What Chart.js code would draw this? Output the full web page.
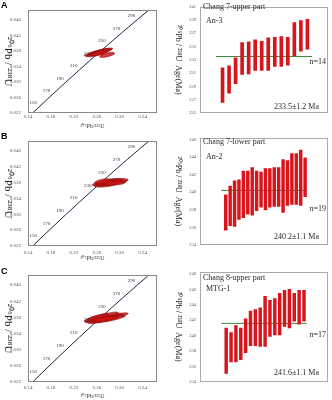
<!DOCTYPE html>
<html><head><meta charset="utf-8">
<script src="https://cdn.jsdelivr.net/npm/chart.js@4.4.0/dist/chart.umd.min.js"></script>
<style>
html,body{margin:0;padding:0;background:#fff;}
#wrap{position:relative;width:332px;height:400px;overflow:hidden;background:#fff;}
canvas{position:absolute;}
.lt{position:absolute;font:bold 9px "Liberation Sans",Arial,sans-serif;color:#000;line-height:10px;}
</style></head><body>
<div id="wrap">
<canvas id="cA" width="162" height="131" style="left:0;top:0"></canvas>
<canvas id="cB" width="162" height="134" style="left:0;top:131px"></canvas>
<canvas id="cC" width="162" height="135" style="left:0;top:265px"></canvas>
<canvas id="rA" width="167" height="131" style="left:165px;top:0"></canvas>
<canvas id="rB" width="167" height="134" style="left:165px;top:131px"></canvas>
<canvas id="rC" width="167" height="135" style="left:165px;top:265px"></canvas>
<div class="lt" style="left:1px;top:0px">A</div>
<div class="lt" style="left:1px;top:131px">B</div>
<div class="lt" style="left:1px;top:266px">C</div>
</div>
<script>
// ---- Concordia reference curve (ages in Ma, ratios) ----
const concAges = [140,150,170,190,210,230,250,270,290,306];
const concX = [0.1479,0.1592,0.1823,0.2058,0.2298,0.2542,0.2792,0.3046,0.3306,0.3517];
const concY = [0.02196,0.02354,0.02672,0.02991,0.03311,0.03632,0.03954,0.04277,0.04601,0.04861];
const concLabelAges = [150,170,190,210,230,250,270,290];
const ratioXTicks = [0.14,0.18,0.22,0.26,0.30,0.34];
const ratioYTicks = [0.022,0.026,0.030,0.034,0.038,0.042,0.046];

// ---- Error ellipses: major-axis end points (207Pb/235U, 206Pb/238U) ----
const aEllX1 = [0.238,0.242,0.246,0.250,0.265];
const aEllY1 = [0.0367,0.0366,0.0370,0.0368,0.0365];
const aEllX2 = [0.288,0.282,0.286,0.278,0.291];
const aEllY2 = [0.0386,0.0382,0.0385,0.0380,0.0374];

const bEllX1 = [0.252,0.258,0.262,0.255,0.265,0.260,0.270,0.256];
const bEllY1 = [0.0374,0.0376,0.0378,0.0372,0.0380,0.0374,0.0377,0.0379];
const bEllX2 = [0.300,0.312,0.305,0.295,0.315,0.290,0.310,0.285];
const bEllY2 = [0.0383,0.0384,0.0388,0.0378,0.0387,0.0385,0.0381,0.0387];

const cEllX1 = [0.240,0.245,0.242,0.250,0.238,0.252];
const cEllY1 = [0.0368,0.0366,0.0372,0.0368,0.0370,0.0372];
const cEllX2 = [0.315,0.305,0.298,0.310,0.280,0.295];
const cEllY2 = [0.0390,0.0387,0.0392,0.0384,0.0388,0.0380];

// ---- 206Pb/238U spot ages (Ma): lower / upper ends of the error bars ----
const aAgeLo = [226.6,228.0,229.4,230.8,230.9,231.4,231.4,231.4,232.0,232.0,232.2,233.6,234.3,234.6];
const aAgeHi = [231.8,232.1,233.3,235.6,235.7,236.0,235.8,236.3,236.4,236.5,236.4,238.6,238.9,239.1];
const bAgeLo = [235.7,236.2,236.1,236.9,237.1,237.5,237.4,237.9,238.3,238.0,238.3,238.4,238.4,237.7,238.5,238.6,238.6,238.5,239.5];
const bAgeHi = [239.7,240.7,241.3,241.4,242.4,242.4,242.8,242.4,242.3,242.7,242.7,242.8,242.8,243.7,243.6,244.4,244.4,244.8,243.9];
const cAgeLo = [235.1,236.6,236.6,236.9,237.8,238.7,238.7,238.6,238.6,239.9,240.1,240.1,241.2,241.0,241.9,241.5,241.9];
const cAgeHi = [241.0,240.4,241.3,241.0,242.2,243.2,243.4,243.6,245.1,244.6,244.8,245.5,245.9,246.0,245.5,245.9,245.9];
const meanAges = [233.5,240.2,241.6];
const aAgeTicks = [225,227,229,231,233,235,237,239,241];
const bAgeTicks = [234,236,238,240,242,244,246];
const cAgeTicks = [234,236,238,240,242,244,246,248];
const sampleNames = ['Chang 7-upper part','Chang 7-lower part','Chang 8-upper part'];
const sampleIds = ['An-3','An-2','MTG-1'];
const spotCounts = [14,19,17];
const meanErr = [1.2,1.1,1.1];

const SERIF = '"Liberation Serif","Times New Roman",serif';

function boxPlugin(color){
  return {id:'box', afterDraw(chart){
    const a=chart.chartArea, c=chart.ctx;
    c.save(); c.strokeStyle=color; c.lineWidth=1;
    c.strokeRect(Math.round(a.left)+0.5, Math.round(a.top)+0.5, Math.round(a.right-a.left)-1, Math.round(a.bottom-a.top)-1);
    c.restore();
  }};
}
// vertical axis title, written top-to-bottom
function vTitlePlugin(text, size, x){
  return {id:'vtitle', afterDraw(chart){
    const a=chart.chartArea, c=chart.ctx;
    c.save(); c.translate(x,(a.top+a.bottom)/2); c.rotate(Math.PI/2);
    c.font=size+'px '+SERIF; c.fillStyle='#222'; c.textAlign='center'; c.textBaseline='middle';
    c.fillText(text,0,0); c.restore();
  }};
}
function ellPlugin(x1,y1,x2,y2,w){
  return {id:'ell', afterDatasetsDraw(chart){
    const {ctx, chartArea:a, scales:{x,y}} = chart;
    ctx.save(); ctx.beginPath(); ctx.rect(a.left,a.top,a.right-a.left,a.bottom-a.top); ctx.clip();
    for(let i=0;i<x1.length;i++){
      const p1x=x.getPixelForValue(x1[i]), p1y=y.getPixelForValue(y1[i]);
      const p2x=x.getPixelForValue(x2[i]), p2y=y.getPixelForValue(y2[i]);
      const cx=(p1x+p2x)/2, cy=(p1y+p2y)/2;
      const r=Math.hypot(p2x-p1x,p2y-p1y)/2, ang=Math.atan2(p2y-p1y,p2x-p1x);
      ctx.beginPath(); ctx.ellipse(cx,cy,r,w,ang,0,Math.PI*2);
      ctx.fillStyle='rgba(200,20,20,0.85)'; ctx.fill();
      ctx.strokeStyle='#7a0a0a'; ctx.lineWidth=0.5; ctx.stroke();
    }
    ctx.restore();
  }};
}
const concLabPlugin = {id:'concLab', afterDatasetsDraw(chart){
  const {ctx, scales:{x,y}} = chart;
  ctx.save(); ctx.font='5px '+SERIF; ctx.fillStyle='#333'; ctx.textAlign='right'; ctx.textBaseline='middle';
  concLabelAges.forEach(age=>{
    const i=concAges.indexOf(age);
    const px=x.getPixelForValue(concX[i]), py=y.getPixelForValue(concY[i]);
    ctx.fillText(String(age), px-2, py-4);
  });
  ctx.restore();
}};
function notesPlugin(list){
  return {id:'notes', afterDraw(chart){
    const c=chart.ctx; c.save(); c.fillStyle='#2a2a2a'; c.textBaseline='middle';
    list.forEach(n=>{ c.font=n.size+'px '+SERIF; c.textAlign=n.align||'left'; c.fillText(n.text,n.x,n.y); });
    c.restore();
  }};
}

function makeConc(id, ell, cfg){
  new Chart(document.getElementById(id), {
    type:'scatter',
    data:{datasets:[{data:concX.map((v,i)=>({x:v,y:concY[i]})), showLine:true, borderColor:'#1c2440', borderWidth:1, pointRadius:0, tension:0}]},
    options:{
      responsive:false, animation:false, events:[],
      layout:{padding:{top:cfg.top,right:cfg.right,left:0,bottom:0}},
      plugins:{legend:{display:false},tooltip:{enabled:false}},
      scales:{
        x:{type:'linear',min:0.14,max:0.365,
          afterBuildTicks:s=>{s.ticks=ratioXTicks.map(v=>({value:v}));},
          afterFit:s=>{s.height=cfg.xh;},
          grid:{display:false,drawTicks:false}, border:{display:false},
          ticks:{padding:cfg.xtp,autoSkip:false,maxRotation:0,font:{size:5,family:SERIF},color:'#555',callback:v=>Number(v).toFixed(2)},
          title:{display:true,text:'²⁰⁷Pb/²³⁵U',font:{size:6,family:SERIF},color:'#333',padding:{top:0,bottom:cfg.xttp}}},
        y:{type:'linear',min:0.022,max:0.0485,
          afterBuildTicks:s=>{s.ticks=ratioYTicks.map(v=>({value:v}));},
          afterFit:s=>{s.width=28;},
          grid:{display:false,drawTicks:false}, border:{display:false},
          ticks:{padding:7,autoSkip:false,font:{size:5,family:SERIF},color:'#555',callback:v=>Number(v).toFixed(3)},
          title:{display:false}}
      }
    },
    plugins:[boxPlugin('#888'), ellPlugin(ell[0],ell[1],ell[2],ell[3],ell[4]), concLabPlugin, vTitlePlugin('²⁰⁶Pb / ²³⁸U',11,8)]
  });
}

function makeAge(id, k, lo, hi, ticks, cfg, notes){
  const pts = lo.map((v,i)=>({x:i+1,y:[v,hi[i]]}));
  new Chart(document.getElementById(id), {
    type:'bar',
    data:{datasets:[
      {type:'line',data:[{x:cfg.xmin,y:meanAges[k]},{x:cfg.xmax,y:meanAges[k]}],borderColor:'#3f8a3f',borderWidth:1,pointRadius:0,order:2},
      {type:'bar',data:pts,backgroundColor:'#d7151c',barThickness:cfg.bw,order:1}
    ]},
    options:{
      responsive:false, animation:false, events:[],
      layout:{padding:{top:cfg.top,right:4,left:0,bottom:cfg.bottom}},
      plugins:{legend:{display:false},tooltip:{enabled:false}},
      scales:{
        x:{type:'linear',min:cfg.xmin,max:cfg.xmax,display:false},
        y:{type:'linear',min:ticks[0],max:cfg.ymax,
          afterBuildTicks:s=>{s.ticks=ticks.map(v=>({value:v}));},
          afterFit:s=>{s.width=35;},
          grid:{display:false,drawTicks:false}, border:{display:false},
          ticks:{padding:4,autoSkip:false,font:{size:4.5,family:SERIF},color:'#555'},
          title:{display:false}}
      }
    },
    plugins:[boxPlugin('#aaa'), notesPlugin(notes), vTitlePlugin('²⁰⁶Pb / ²³⁸U  Age(Ma)',8,13)]
  });
}

makeConc('cA',[aEllX1,aEllY1,aEllX2,aEllY2,2.0],{top:3,right:5,xh:18,xtp:1,xttp:1.4});
makeConc('cB',[bEllX1,bEllY1,bEllX2,bEllY2,2.3],{top:2,right:5,xh:19,xtp:4,xttp:3});
makeConc('cC',[cEllX1,cEllY1,cEllX2,cEllY2,2.3],{top:3,right:5,xh:18,xtp:2.5,xttp:0});

function notesFor(k, yTitle, yId, yN, yMean){
  return [
    {text:sampleNames[k],x:38,y:yTitle,size:8},
    {text:sampleIds[k],x:41,y:yId,size:8},
    {text:'n='+spotCounts[k],x:161,y:yN,size:8,align:'right'},
    {text:meanAges[k].toFixed(1)+'±'+meanErr[k].toFixed(1)+' Ma',x:154,y:yMean,size:8,align:'right'}
  ];
}
makeAge('rA',0,aAgeLo,aAgeHi,aAgeTicks,{xmin:0,xmax:14.7,ymax:241,top:3,bottom:18,bw:3},notesFor(0,7,21,62,107));
makeAge('rB',1,bAgeLo,bAgeHi,bAgeTicks,{xmin:0,xmax:19.35,ymax:246.2,top:2,bottom:20,bw:2.8},notesFor(1,11,26,78,106));
makeAge('rC',2,cAgeLo,cAgeHi,cAgeTicks,{xmin:0,xmax:17.55,ymax:248.3,top:3,bottom:18,bw:2.8},notesFor(2,13,24,70,108));
</script>
</body></html>
